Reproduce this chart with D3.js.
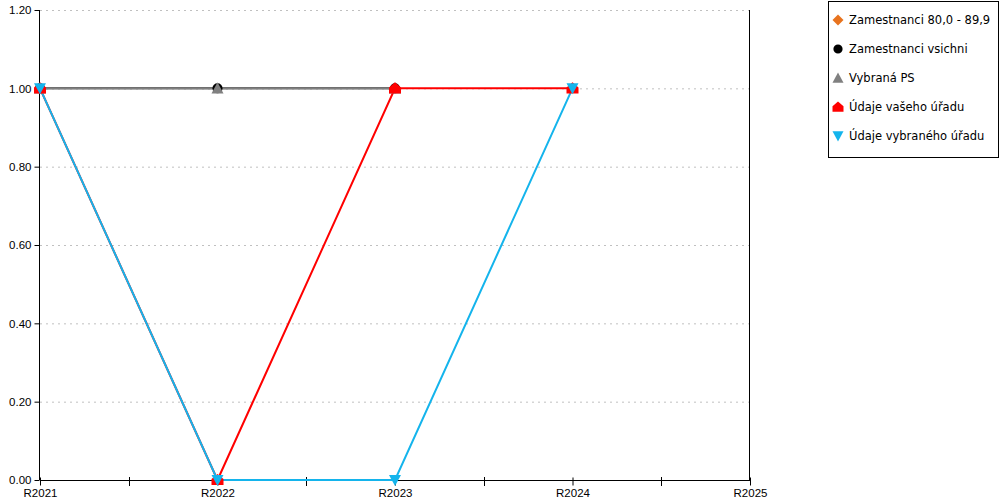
<!DOCTYPE html>
<html><head><meta charset="utf-8">
<script src="https://cdn.jsdelivr.net/npm/d3@7"></script>
<style>body{margin:0;background:#fff;}svg{display:block;font-family:"DejaVu Sans",Verdana,sans-serif;}</style>
</head><body>
<svg id="c" width="1000" height="500"></svg>
<script>
const categories = ["R2021","R2022","R2023","R2024","R2025"];
const yTicks = [0,0.2,0.4,0.6,0.8,1.0,1.2];
const seriesNames = ["Zamestnanci 80,0 - 89,9","Zamestnanci vsichni","Vybraná PS","Údaje vašeho úřadu","Údaje vybraného úřadu"];
const zam80 = [null,null,null,null,null];
const zamAll = [1,1,1,null,null];
const vybranaPS = [1,1,1,null,null];
const vasUrad = [1,0,1,1,null];
const vybranyUrad = [1,0,0,1,null];
const seriesValues = [zam80, zamAll, vybranaPS, vasUrad, vybranyUrad];
const colors = ["#e8731e","#000000","#808080","#ff0000","#14b4ec"];
const shapes = ["diamond","circle","triUp","house","triDown"];

const svg = d3.select("#c");
const L=40,R=750,T=10,B=480;
const x = d3.scalePoint().domain(categories).range([L,R]);
const y = d3.scaleLinear().domain([0,1.2]).range([B,T]);

svg.append("g").selectAll("line").data(yTicks.filter(d=>d>0)).join("line")
  .attr("x1",L).attr("x2",R).attr("y1",d=>y(d)+0.5).attr("y2",d=>y(d)+0.5)
  .attr("stroke","#c0c0c0").attr("stroke-dasharray","2,4");

const ya = svg.append("g").attr("transform",`translate(${L-0.5},0)`)
  .call(d3.axisLeft(y).tickValues(yTicks).tickFormat(d3.format(".2f")).tickSize(5).tickPadding(3));
ya.select(".domain").attr("stroke","#000").attr("d",`M0,${T}V${B}`);
ya.selectAll("text").attr("font-size","11.5px").attr("fill","#000");

svg.append("line").attr("x1",R-0.5).attr("x2",R-0.5).attr("y1",T).attr("y2",B).attr("stroke","#000");

const xa = svg.append("g").attr("transform",`translate(0,${B+0.5})`)
  .call(d3.axisBottom(x).tickSize(5).tickPadding(3));
xa.select(".domain").attr("stroke","#000").attr("d",`M${L},0H${R}`);
xa.selectAll("text").attr("font-size","11.5px").attr("fill","#000");
xa.selectAll(".tick line").attr("y1",-3).attr("y2",5);
const mids = categories.slice(0,-1).map((c,i)=>(x(c)+x(categories[i+1]))/2);
svg.append("g").selectAll("line").data(mids).join("line")
  .attr("x1",d=>Math.round(d)+0.5).attr("x2",d=>Math.round(d)+0.5)
  .attr("y1",B-3).attr("y2",B+6).attr("stroke","#000");

function shapePath(s, r){
  switch(s){
    case "diamond": return `M0,${-r}L${r},0L0,${r}L${-r},0Z`;
    case "circle": return d3.symbol(d3.symbolCircle, Math.PI*r*r*0.7)();
    case "triUp": return `M0,${-r}L${r},${r*0.85}L${-r},${r*0.85}Z`;
    case "triDown": return `M0,${r}L${r},${-r*0.85}L${-r},${-r*0.85}Z`;
    case "house": return `M0,${-r}L${r},${-r*0.15}L${r},${r*0.85}L${-r},${r*0.85}L${-r},${-r*0.15}Z`;
  }
}

seriesValues.forEach((vals,i)=>{
  const pts = vals.map((v,j)=>({c:categories[j],v})).filter(d=>d.v!=null);
  const line = d3.line().x(d=>x(d.c)).y(d=>y(d.v));
  svg.append("path").datum(pts).attr("d",line).attr("fill","none")
    .attr("stroke",colors[i]).attr("stroke-width",2);
});
seriesValues.forEach((vals,i)=>{
  const pts = vals.map((v,j)=>({c:categories[j],v})).filter(d=>d.v!=null);
  svg.append("g").selectAll("path").data(pts).join("path")
    .attr("transform",d=>`translate(${x(d.c)},${y(d.v)})`)
    .attr("d",shapePath(shapes[i],6)).attr("fill",colors[i]);
});

const lg = svg.append("g");
lg.append("rect").attr("x",828.5).attr("y",1.5).attr("width",170).attr("height",156)
  .attr("fill","#fff").attr("stroke","#000");
seriesNames.forEach((n,i)=>{
  const cy = 20 + i*29;
  lg.append("path").attr("transform",`translate(838,${cy})`).attr("d",shapePath(shapes[i],5.5)).attr("fill",colors[i]);
  lg.append("text").attr("x",849).attr("y",cy+4).attr("font-size","11.5px").attr("fill","#000").text(n);
});
</script>
</body></html>
